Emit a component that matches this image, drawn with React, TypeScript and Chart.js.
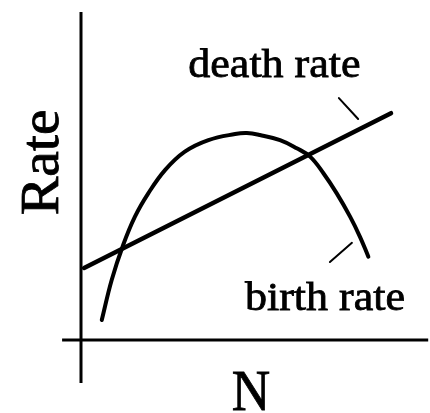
import React, { useEffect, useRef } from "react";
import { Chart, registerables } from "chart.js";

Chart.register(...registerables);

// ---- data (N on x, Rate on y, arbitrary units) ----
const deathN = [0.1, 10.0];
const deathRate = [3.0, 9.45];

const birthN = [0.67, 0.99, 1.36, 1.74, 2.17, 2.71, 3.35, 4.11, 4.97, 5.35, 5.77, 6.42, 6.96, 7.39, 7.82, 8.25, 8.68, 9.0, 9.27];
const birthRate = [0.83, 2.5, 3.96, 5.14, 6.11, 7.08, 7.85, 8.33, 8.58, 8.62, 8.54, 8.33, 7.99, 7.64, 6.95, 6.11, 5.14, 4.3, 3.47];

// axis lines (drawn through the scales)
const yAxisN = [0, 0];
const yAxisRate = [-1.79, 13.67];
const xAxisN = [-0.61, 11.2];
const xAxisRate = [0, 0];

// leader ticks for the labels
const deathTickN = [8.32, 8.94];
const deathTickRate = [10.08, 9.21];
const birthTickN = [8.03, 8.74];
const birthTickRate = [3.25, 4.05];

// text labels
const labelTexts = ["death rate", "birth rate", "N", "Rate"];
const labelN = [6.24, 7.87, 5.48, -0.74];
const labelRate = [10.96, 1.25, -2.92, 7.4];

// ---- layout ----
const W = 430;
const H = 413;
const ORIGIN_X = 81;
const ORIGIN_Y = 340;
const PX_PER_N = 31;
const PX_PER_RATE = 24;

const labelStyles = [
  { size: 40, sx: 1.1, rot: 0 },
  { size: 40, sx: 1.1, rot: 0 },
  { size: 56, sx: 0.95, rot: 0 },
  { size: 54, sx: 1.07, rot: -Math.PI / 2 },
];

const pts = (xs: number[], ys: number[]) => xs.map((x, i) => ({ x, y: ys[i] }));

const labelPlugin = {
  id: "textLabels",
  afterDatasetsDraw(chart: any) {
    const { ctx, scales } = chart;
    labelTexts.forEach((t, i) => {
      const st = labelStyles[i];
      const px = scales.x.getPixelForValue(labelN[i]);
      const py = scales.y.getPixelForValue(labelRate[i]);
      ctx.save();
      ctx.translate(px, py);
      ctx.rotate(st.rot);
      ctx.scale(st.sx, 1);
      ctx.font = `${st.size}px "Liberation Serif", "Times New Roman", serif`;
      ctx.fillStyle = "#000";
      ctx.strokeStyle = "#000";
      ctx.lineWidth = 0.8;
      ctx.textAlign = "center";
      ctx.textBaseline = "alphabetic";
      ctx.fillText(t, 0, 0);
      ctx.strokeText(t, 0, 0);
      ctx.restore();
    });
  },
};

export default function App() {
  const ref = useRef<HTMLCanvasElement | null>(null);

  useEffect(() => {
    document.body.style.margin = "0";
    document.body.style.background = "#fff";
    const canvas = ref.current;
    if (!canvas) return;
    const line = (data: any[], width: number, extra: any = {}) => ({
      data,
      showLine: true,
      borderColor: "#000",
      backgroundColor: "#000",
      borderWidth: width,
      pointRadius: 0,
      borderCapStyle: "round",
      borderJoinStyle: "round",
      fill: false,
      ...extra,
    });
    const chart = new Chart(canvas, {
      type: "scatter",
      data: {
        datasets: [
          line(pts(yAxisN, yAxisRate), 3, { borderCapStyle: "butt" }),
          line(pts(xAxisN, xAxisRate), 3, { borderCapStyle: "butt" }),
          line(pts(deathN, deathRate), 4.5),
          line(pts(birthN, birthRate), 4, { tension: 0.4 }),
          line(pts(deathTickN, deathTickRate), 2),
          line(pts(birthTickN, birthTickRate), 2),
        ] as any,
      },
      options: {
        animation: false,
        responsive: false,
        maintainAspectRatio: false,
        layout: { padding: 0 },
        plugins: { legend: { display: false }, tooltip: { enabled: false } },
        scales: {
          x: {
            type: "linear",
            display: false,
            min: -ORIGIN_X / PX_PER_N,
            max: (W - ORIGIN_X) / PX_PER_N,
          },
          y: {
            type: "linear",
            display: false,
            min: -(H - ORIGIN_Y) / PX_PER_RATE,
            max: ORIGIN_Y / PX_PER_RATE,
          },
        },
      },
      plugins: [labelPlugin],
    });
    return () => chart.destroy();
  }, []);

  return (
    <div style={{ width: W, height: H, background: "#fff" }}>
      <canvas ref={ref} width={W} height={H} style={{ display: "block" }} />
    </div>
  );
}
